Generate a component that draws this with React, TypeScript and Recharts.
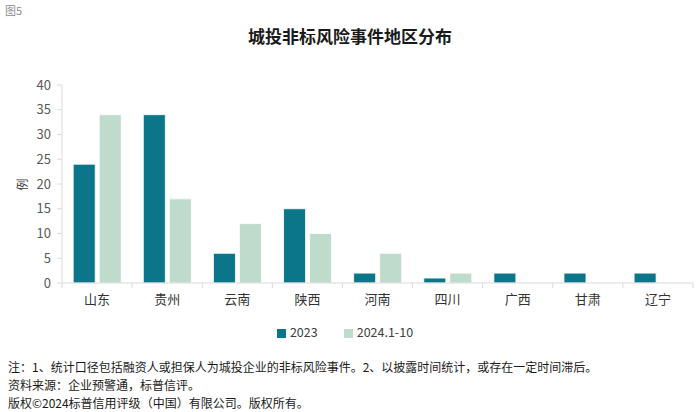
import { BarChart, Bar, XAxis, YAxis, Legend } from 'recharts';

const regions = ['山东', '贵州', '云南', '陕西', '河南', '四川', '广西', '甘肃', '辽宁'];
const events2023 = [24, 34, 6, 15, 2, 1, 2, 2, 2];
const events2024 = [34, 17, 12, 10, 6, 2, 0, 0, 0];
const yTicks = [0, 5, 10, 15, 20, 25, 30, 35, 40];

const data = regions.map((region, i) => ({
  region,
  y2023: events2023[i],
  y2024: events2024[i],
}));

const W = 700;
const H = 412;
// legend sits on top in recharts' layout, so its height is added to top
const margin = { top: 66, right: 7, left: 22, bottom: 99 };
const yAxisW = 40;
const band = (W - margin.left - yAxisW - margin.right) / regions.length;
const font = '"Noto Sans CJK SC", "Noto Sans", sans-serif';

const RegionTick = (props: any) => {
  const { x, y, payload, index } = props;
  const left = x - band / 2;
  const right = x + band / 2;
  return (
    <g>
      <line x1={left} y1={y} x2={left} y2={y + 5} stroke="#d9d9d9" />
      {index === regions.length - 1 && (
        <line x1={right} y1={y} x2={right} y2={y + 5} stroke="#d9d9d9" />
      )}
      <text x={x} y={y + 17} textAnchor="middle" dominantBaseline="middle" fontSize={13} fill="#333" fontFamily={font}>
        {payload.value}
      </text>
    </g>
  );
};

const App = () => {
  return (
    <div style={{ position: 'absolute', left: 0, top: 0, width: W, height: H, background: '#fff', fontFamily: font }}>
      <div style={{ position: 'absolute', left: 5, top: 2, fontSize: 11, color: '#8c8c8c' }}>图5</div>
      <div style={{ position: 'absolute', left: 0, top: 23, width: W, textAlign: 'center', fontSize: 17, fontWeight: 'bold', color: '#1a1a1a' }}>
        城投非标风险事件地区分布
      </div>
      <div style={{ position: 'absolute', left: 15, top: 176, fontSize: 12, color: '#404040', transform: 'rotate(-90deg)' }}>例</div>
      <BarChart width={W} height={H} data={data} margin={margin} barCategoryGap="16%" barGap={4}>
        <XAxis
          dataKey="region"
          axisLine={{ stroke: '#d9d9d9' }}
          tickLine={false}
          tickSize={0}
          tickMargin={0}
          height={30}
          interval={0}
          tick={<RegionTick />}
        />
        <YAxis
          domain={[0, 40]}
          ticks={yTicks}
          width={yAxisW}
          axisLine={{ stroke: '#d9d9d9' }}
          tickLine={{ stroke: '#d9d9d9' }}
          tickSize={5}
          tickMargin={6}
          tick={{ fontSize: 13, fill: '#595959', fontFamily: font }}
        />
        <Legend
          verticalAlign="top"
          iconType="square"
          iconSize={9}
          wrapperStyle={{ top: 322, left: 8, width: W, fontSize: 12.5, fontFamily: font }}
          formatter={(value: string) => <span style={{ color: '#404040', paddingRight: 16 }}>{value}</span>}
        />
        <Bar dataKey="y2023" name="2023" fill="#0b7589" stroke="#ffffff" strokeWidth={0.8} isAnimationActive={false} />
        <Bar dataKey="y2024" name="2024.1-10" fill="#bfdbcb" stroke="#ffffff" strokeWidth={0.8} isAnimationActive={false} />
      </BarChart>
      <div style={{ position: 'absolute', left: 8, top: 358, fontSize: 12, lineHeight: '18px', color: '#1a1a1a' }}>
        <div>注：1、统计口径包括融资人或担保人为城投企业的非标风险事件。2、以披露时间统计，或存在一定时间滞后。</div>
        <div>资料来源：企业预警通，标普信评。</div>
        <div>版权©2024标普信用评级（中国）有限公司。版权所有。</div>
      </div>
    </div>
  );
};

export default App;
